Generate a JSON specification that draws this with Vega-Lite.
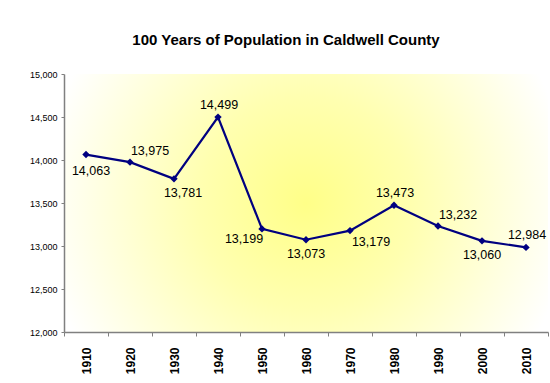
{
  "$schema": "https://vega.github.io/schema/vega-lite/v6.json",
  "autosize": {"type": "none"},
  "width": 484,
  "height": 258,
  "padding": {"left": 64, "top": 74, "right": 2, "bottom": 51},
  "background": "#ffffff",
  "title": {
    "text": "100 Years of Population in Caldwell County",
    "font": "Liberation Sans",
    "fontSize": 15,
    "fontWeight": "bold",
    "color": "#000000",
    "anchor": "middle",
    "dx": -20,
    "offset": 22
  },
  "config": {
    "view": {
      "stroke": null,
      "fill": {
        "gradient": "radial",
        "x1": 0.5, "y1": 0.5, "r1": 0,
        "x2": 0.5, "y2": 0.5, "r2": 0.55,
        "stops": [
          {"offset": 0, "color": "#FFFF88"},
          {"offset": 0.4, "color": "#FFFFB0"},
          {"offset": 1, "color": "#FFFFFF"}
        ]
      }
    },
    "font": "Liberation Sans",
    "axis": {
      "domainColor": "#808080",
      "tickColor": "#808080",
      "labelColor": "#000000",
      "labelFont": "Liberation Sans",
      "grid": false,
      "title": null
    }
  },
  "data": {
    "values": [
      {"year": "1910", "pop": 14063},
      {"year": "1920", "pop": 13975},
      {"year": "1930", "pop": 13781},
      {"year": "1940", "pop": 14499},
      {"year": "1950", "pop": 13199},
      {"year": "1960", "pop": 13073},
      {"year": "1970", "pop": 13179},
      {"year": "1980", "pop": 13473},
      {"year": "1990", "pop": 13232},
      {"year": "2000", "pop": 13060},
      {"year": "2010", "pop": 12984}
    ]
  },
  "encoding": {
    "x": {
      "field": "year",
      "type": "ordinal",
      "bandPosition": 0.5,
      "scale": {"type": "band", "paddingInner": 0, "paddingOuter": 0},
      "axis": {
        "labelAngle": -90,
        "labelFont": "Liberation Sans",
        "labelFontSize": 12,
        "labelFontWeight": "bold",
        "tickBand": "extent",
        "tickSize": 4,
        "labelPadding": 11,
        "domainWidth": 1.5
      }
    },
    "y": {
      "field": "pop",
      "type": "quantitative",
      "scale": {"domain": [12000, 15000], "nice": false, "zero": false},
      "axis": {
        "values": [12000, 12500, 13000, 13500, 14000, 14500, 15000],
        "format": ",.0f",
        "labelFontSize": 9,
        "tickSize": 3,
        "labelPadding": 4,
        "domainWidth": 1.5
      }
    }
  },
  "layer": [
    {"mark": {"type": "line", "color": "#000080", "strokeWidth": 2.2}},
    {"mark": {"type": "point", "shape": "diamond", "filled": true, "color": "#000080", "size": 55, "opacity": 1}},
    {
      "transform": [{"filter": "indexof(['1940','1980','2010'], datum.year) >= 0"}],
      "mark": {"type": "text", "fontSize": 12.5, "baseline": "middle", "dy": -12, "dx": 1, "color": "#000000"},
      "encoding": {"text": {"field": "pop", "type": "quantitative", "format": ",.0f"}}
    },
    {
      "transform": [{"filter": "indexof(['1920','1990'], datum.year) >= 0"}],
      "mark": {"type": "text", "fontSize": 12.5, "baseline": "middle", "dy": -11, "dx": 20, "color": "#000000"},
      "encoding": {"text": {"field": "pop", "type": "quantitative", "format": ",.0f"}}
    },
    {
      "transform": [{"filter": "indexof(['1960','2000'], datum.year) >= 0"}],
      "mark": {"type": "text", "fontSize": 12.5, "baseline": "middle", "dy": 14, "dx": 0, "color": "#000000"},
      "encoding": {"text": {"field": "pop", "type": "quantitative", "format": ",.0f"}}
    },
    {
      "transform": [{"filter": "datum.year == '1910'"}],
      "mark": {"type": "text", "fontSize": 12.5, "baseline": "middle", "dy": 16, "dx": 5, "color": "#000000"},
      "encoding": {"text": {"field": "pop", "type": "quantitative", "format": ",.0f"}}
    },
    {
      "transform": [{"filter": "datum.year == '1930'"}],
      "mark": {"type": "text", "fontSize": 12.5, "baseline": "middle", "dy": 14, "dx": 9, "color": "#000000"},
      "encoding": {"text": {"field": "pop", "type": "quantitative", "format": ",.0f"}}
    },
    {
      "transform": [{"filter": "datum.year == '1970'"}],
      "mark": {"type": "text", "fontSize": 12.5, "baseline": "middle", "dy": 11, "dx": 21, "color": "#000000"},
      "encoding": {"text": {"field": "pop", "type": "quantitative", "format": ",.0f"}}
    },
    {
      "transform": [{"filter": "datum.year == '1950'"}],
      "mark": {"type": "text", "fontSize": 12.5, "baseline": "middle", "dy": 10, "dx": -18, "color": "#000000"},
      "encoding": {"text": {"field": "pop", "type": "quantitative", "format": ",.0f"}}
    }
  ]
}
